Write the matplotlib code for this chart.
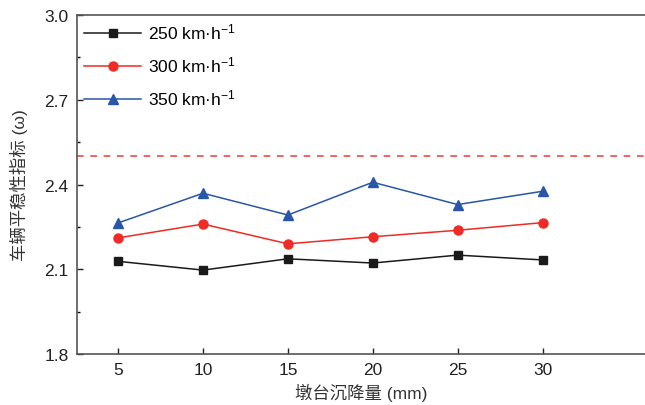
import matplotlib
matplotlib.use('Agg')
import matplotlib.pyplot as plt
from matplotlib.ticker import MultipleLocator

plt.rcParams['font.family'] = ['Liberation Sans', 'Noto Sans CJK SC', 'DejaVu Sans']
plt.rcParams['mathtext.fontset'] = 'custom'
plt.rcParams['mathtext.rm'] = 'Liberation Sans'
plt.rcParams['mathtext.it'] = 'Liberation Sans:italic'

# settlement (mm) and ride comfort index per speed
settlement = [5, 10, 15, 20, 25, 30]
v250 = [2.128, 2.097, 2.137, 2.122, 2.150, 2.133]
v300 = [2.211, 2.260, 2.190, 2.215, 2.238, 2.265]
v350 = [2.264, 2.369, 2.292, 2.408, 2.329, 2.376]
limit = 2.5

fig = plt.figure(figsize=(6.45, 4.06), dpi=100)
ax = fig.add_axes([77 / 645, 1 - 355 / 406, 1 - 77 / 645 + 0.001, (355 - 16) / 406])

ax.plot(settlement, v250, color='#1a1a1a', lw=1.1, marker='s', ms=5.5,
        label='250 km·h$^{−1}$')
ax.plot(settlement, v300, color='#ee2b24', lw=1.1, marker='o', ms=6.5,
        label='300 km·h$^{−1}$')
ax.plot(settlement, v350, color='#2a56a8', lw=1.1, marker='^', ms=7,
        label='350 km·h$^{−1}$')
ax.axhline(limit, color='#ee2b24', lw=1.2, ls=(0, (4, 4)), alpha=0.85)

ax.set_xlim(2.58, 36.07)
ax.set_ylim(1.8, 3.0)
ax.set_xticks(settlement)
ax.yaxis.set_major_locator(MultipleLocator(0.3))
ax.yaxis.set_minor_locator(MultipleLocator(0.15))
ax.tick_params(axis='both', which='major', direction='in', length=4,
               width=1, labelsize=12.5, colors='#222222', pad=6)
ax.tick_params(axis='y', which='minor', direction='in', length=2.5, width=1)
ax.spines['right'].set_visible(False)
for s in ['left', 'bottom', 'top']:
    ax.spines[s].set_color('#555555')
    ax.spines[s].set_linewidth(1.2)

ax.set_xlabel('墩台沉降量 (mm)', fontsize=12.5, color='#333333', labelpad=4)
ax.set_ylabel('车辆平稳性指标 (ω)', fontsize=12.5, color='#333333', labelpad=12)

ax.legend(loc='upper left', frameon=False, fontsize=12.5, handlelength=3.3,
          handletextpad=0.4, labelspacing=0.75, borderaxespad=0.0,
          bbox_to_anchor=(0.0, 1.0))

fig.savefig('out.png', dpi=100)
